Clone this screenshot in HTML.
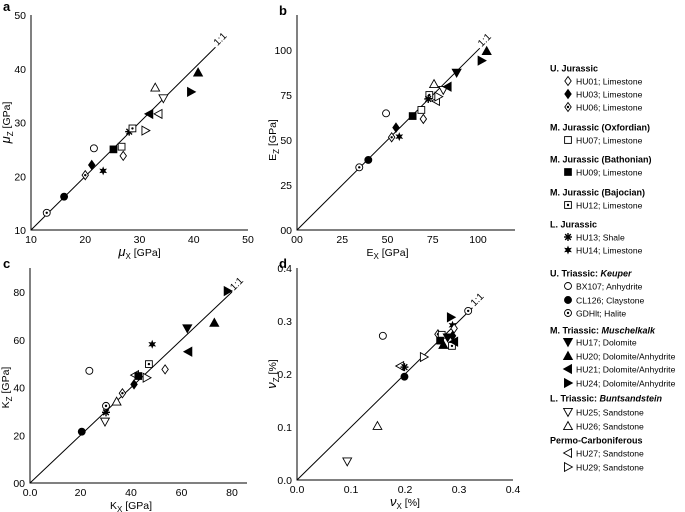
<!DOCTYPE html>
<html><head><meta charset="utf-8"><style>
html,body{margin:0;padding:0;background:#fff;}
svg{display:block;font-family:"Liberation Sans",sans-serif;}
</style></head><body>
<svg id="s" width="685" height="512" viewBox="0 0 685 512" xmlns="http://www.w3.org/2000/svg"></svg>
<script>
const NS="http://www.w3.org/2000/svg";
const svg=document.getElementById('s');
const samples=['HU01','HU03','HU06','HU07','HU09','HU12','HU13','HU14','BX107','CL126','GDHlt','HU17','HU20','HU21','HU24','HU25','HU26','HU27','HU29'];
const markers=['diamond-open','diamond-fill','diamond-dot','square-open','square-fill','square-dot','asterisk','star','circle-open','circle-fill','circle-dot','tri-down-fill','tri-up-fill','tri-left-fill','tri-right-fill','tri-down-open','tri-up-open','tri-left-open','tri-right-open'];
const aSamples=['GDHlt','CL126','HU06','HU03','BX107','HU14','HU09','HU07','HU01','HU13','HU12','HU29','HU21','HU27','HU26','HU25','HU24','HU20'];
const aX=[12.9,16.1,20.0,21.2,21.6,23.3,25.2,26.7,27.0,28.1,28.7,31.1,31.8,33.5,32.9,34.4,39.5,40.8];
const aY=[13.2,16.2,20.2,22.1,25.2,21.0,25.0,25.5,23.8,28.3,28.9,28.5,31.6,31.6,36.5,34.5,35.7,39.3];
const bSamples=['GDHlt','CL126','HU06','HU14','HU03','BX107','HU09','HU07','HU01','HU12','HU13','HU26','HU27','HU29','HU25','HU21','HU17','HU20','HU24'];
const bX=[34.4,39.4,52.3,56.5,54.7,49.2,63.9,68.7,69.8,73.1,72.5,75.7,76.8,78.1,80.8,83.2,88.2,104.8,102.0];
const bY=[34.8,38.9,51.5,51.9,56.9,64.8,63.3,66.7,61.7,75.0,72.8,81.1,71.7,74.1,77.8,79.6,87.4,99.4,94.1];
const cSamples=['CL126','HU13','HU25','GDHlt','HU26','HU06','HU03','BX107','HU27','HU09','HU29','HU12','HU01','HU14','HU21','HU17','HU20','HU24'];
const cX=[20.5,30.1,29.7,30.1,34.3,36.6,41.2,23.5,41.6,42.9,46.2,47.1,53.5,48.4,62.7,62.3,73.0,78.3];
const cY=[21.5,29.6,25.7,32.3,34.1,37.6,41.3,47.0,45.2,44.8,44.1,49.8,47.6,58.1,55.0,64.8,67.1,80.4];
const dSamples=['HU25','HU26','BX107','CL126','HU27','HU13','HU29','HU06','HU07','HU09','HU20','HU03','HU12','HU21','HU17','HU24','HU14','HU01','GDHlt'];
const dX=[0.093,0.149,0.159,0.199,0.191,0.199,0.235,0.261,0.268,0.265,0.271,0.288,0.287,0.291,0.279,0.285,0.288,0.291,0.317];
const dY=[0.035,0.102,0.272,0.195,0.215,0.213,0.232,0.275,0.274,0.263,0.255,0.272,0.253,0.261,0.269,0.307,0.292,0.286,0.319];

const aTicks=['10','20','30','40','50'];
const bTicks=['00','25','50','75','100'];
const cXTicks=['0.0','20','40','60','80'];
const cYTicks=['00','20','40','60','80'];
const dTicks=['0.0','0.1','0.2','0.3','0.4'];

function el(tag,attrs,parent){const e=document.createElementNS(NS,tag);for(const k in attrs)e.setAttribute(k,attrs[k]);(parent||svg).appendChild(e);return e;}

function marker(g,type,x,y){
  const r=3.5;let e;const fill=type.includes('fill')||type==='star'?'#000':'#fff';
  const sw=0.9;
  if(type.startsWith('circle')){e=el('circle',{cx:x,cy:y,r:r,fill:fill,stroke:'#000','stroke-width':sw},g);}
  else if(type.startsWith('square')){e=el('rect',{x:x-3.4,y:y-3.4,width:6.8,height:6.8,fill:fill,stroke:'#000','stroke-width':sw},g);}
  else if(type.startsWith('diamond')){e=el('polygon',{points:`${x},${y-4.5} ${x+3.2},${y} ${x},${y+4.5} ${x-3.2},${y}`,fill:fill,stroke:'#000','stroke-width':sw},g);}
  else if(type.startsWith('tri')){
    const s=4.4;let p;
    if(type.includes('up'))p=`${x},${y-s} ${x+s},${y+s*0.8} ${x-s},${y+s*0.8}`;
    else if(type.includes('down'))p=`${x},${y+s} ${x+s},${y-s*0.8} ${x-s},${y-s*0.8}`;
    else if(type.includes('left'))p=`${x-s},${y} ${x+s*0.8},${y-s} ${x+s*0.8},${y+s}`;
    else p=`${x+s},${y} ${x-s*0.8},${y-s} ${x-s*0.8},${y+s}`;
    e=el('polygon',{points:p,fill:fill,stroke:'#000','stroke-width':sw},g);}
  else if(type==='asterisk'){
    e=el('g',{},g);
    for(let i=0;i<4;i++){const a=i*Math.PI/4;el('line',{x1:x-4*Math.cos(a),y1:y-4*Math.sin(a),x2:x+4*Math.cos(a),y2:y+4*Math.sin(a),stroke:'#000','stroke-width':1.4},e);}
  }
  else if(type==='star'){
    let p='';for(let i=0;i<12;i++){const a=i*Math.PI/6-Math.PI/2;const rr=i%2?2.1:4.5;p+=`${x+rr*Math.cos(a)},${y+rr*Math.sin(a)} `;}
    e=el('polygon',{points:p,fill:'#000'},g);}
  if(type.endsWith('dot'))el('circle',{cx:x,cy:y,r:1.2,fill:'#000'},g);
  return e;
}

function panel(cfg){
  const g=el('g',{});
  
  
  const sx=v=>cfg.x0+(v-cfg.xmin)*(cfg.x1-cfg.x0)/(cfg.xmax-cfg.xmin);
  const sy=v=>cfg.y0-(v-cfg.ymin)*(cfg.y0-cfg.y1)/(cfg.ymax-cfg.ymin);
  const ax=el('path',{d:`M${cfg.x0},${cfg.ytop}V${cfg.y0}H${cfg.xright}`,fill:'none',stroke:'#000','stroke-width':1},g);
  
  
  cfg.xt.forEach((t,i)=>{const v=cfg.xmin+i*(cfg.xmax-cfg.xmin)/(cfg.xt.length-1);
    const tx=el('text',{x:sx(v),y:cfg.y0+13,'text-anchor':'middle','font-size':10.5},g);tx.textContent=t;
    
    });
  cfg.yt.forEach((t,i)=>{const v=cfg.ymin+i*(cfg.ymax-cfg.ymin)/(cfg.yt.length-1);
    const tx=el('text',{x:cfg.x0-5,y:sy(v)+4,'text-anchor':'end','font-size':10.5},g);tx.textContent=t;
    
    });
  const ln=el('line',{x1:sx(cfg.lmin),y1:sy(cfg.lmin),x2:sx(cfg.lmax),y2:sy(cfg.lmax),stroke:'#000','stroke-width':1},g);
  
  
  const lx=sx(cfg.lmax)+2,ly=sy(cfg.lmax)-1;
  const lt=el('text',{x:lx,y:ly,'font-size':10,transform:`rotate(-45 ${lx} ${ly})`},g);lt.textContent='1:1';
  
  
  cfg.s.forEach((nm,i)=>{const m=marker(g,markers[samples.indexOf(nm)],sx(cfg.X[i]),sy(cfg.Y[i]));
    
    });
  const pl=el('text',{x:cfg.lx,y:cfg.ly,'font-size':13,'font-weight':'bold'},g);pl.textContent=cfg.letter;
  
  
  const xl=el('text',{x:(cfg.x0+cfg.x1)/2,y:cfg.y0+26,'text-anchor':'middle','font-size':10.5},g);xl.innerHTML=cfg.xlab;
  
  
  const yc=(cfg.y0+cfg.y1)/2,yx=cfg.x0-21;
  const yl=el('text',{x:yx,y:yc,'text-anchor':'middle','font-size':10.5,transform:`rotate(-90 ${yx} ${yc})`},g);yl.innerHTML=cfg.ylab;
  
  
}
const sub=(a,b,it)=>`<tspan ${it?'font-style="italic" font-size="13"':''}>${a}</tspan><tspan font-size="8" dy="3">${b}</tspan><tspan dy="-3"> [${it==='p'?'%':'GPa'}]</tspan>`;

panel({name:'panel-a-shear-modulus',letter:'a',lx:3,ly:11,x0:31,x1:248,y0:230,y1:15,xmin:10,xmax:50,ymin:10,ymax:50,ytop:15,xright:248,xt:aTicks,yt:aTicks,lmin:10,lmax:44,s:aSamples,X:aX,Y:aY,xlab:sub('μ','X',true),ylab:sub('μ','Z',true)});
panel({name:'panel-b-youngs-modulus',letter:'b',lx:279,ly:15,x0:297,x1:478,y0:230,y1:50,xmin:0,xmax:100,ymin:0,ymax:100,ytop:15,xright:515,xt:bTicks,yt:bTicks,lmin:0,lmax:101,s:bSamples,X:bX,Y:bY,xlab:sub('E','X',false),ylab:sub('E','Z',false)});
panel({name:'panel-c-bulk-modulus',letter:'c',lx:3,ly:268,x0:30,x1:232,y0:483,y1:292,xmin:0,xmax:80,ymin:0,ymax:80,ytop:268,xright:247,xt:cXTicks,yt:cYTicks,lmin:0,lmax:80,s:cSamples,X:cX,Y:cY,xlab:sub('K','X',false),ylab:sub('K','Z',false)});
panel({name:'panel-d-poissons-ratio',letter:'d',lx:279,ly:268,x0:297,x1:513,y0:480,y1:268,xmin:0,xmax:0.4,ymin:0,ymax:0.4,ytop:268,xright:513,xt:dTicks,yt:dTicks,lmin:0,lmax:0.325,s:dSamples,X:dX,Y:dY,xlab:sub('ν','X','p'),ylab:sub('ν','Z','p')});

const legend=[['h','U. Jurassic',68],['HU01','HU01; Limestone',81],['HU03','HU03; Limestone',94],['HU06','HU06; Limestone',107],
['h','M. Jurassic (Oxfordian)',127],['HU07','HU07; Limestone',140],
['h','M. Jurassic (Bathonian)',159],['HU09','HU09; Limestone',172],
['h','M. Jurassic (Bajocian)',192],['HU12','HU12; Limestone',205],
['h','L. Jurassic',224],['HU13','HU13; Shale',237],['HU14','HU14; Limestone',250],
['h','U. Triassic: <tspan font-style="italic">Keuper</tspan>',273],['BX107','BX107; Anhydrite',286],['CL126','CL126; Claystone',300],['GDHlt','GDHlt; Halite',313],
['h','M. Triassic: <tspan font-style="italic">Muschelkalk</tspan>',330],['HU17','HU17; Dolomite',342],['HU20','HU20; Dolomite/Anhydrite',356],['HU21','HU21; Dolomite/Anhydrite',369],['HU24','HU24; Dolomite/Anhydrite',383],
['h','L. Triassic: <tspan font-style="italic">Buntsandstein</tspan>',398],['HU25','HU25; Sandstone',412],['HU26','HU26; Sandstone',426],
['h','Permo-Carboniferous',440],['HU27','HU27; Sandstone',453],['HU29','HU29; Sandstone',467]];
const lg=el('g',{});


legend.forEach(([k,t,y])=>{
  if(k==='h'){const tx=el('text',{x:550,y:y+3.5,'font-size':9,'font-weight':'bold'},lg);tx.innerHTML=t;
    
    }
  else{const g=el('g',{},lg);
    
    
    const m=marker(g,markers[samples.indexOf(k)],568,y);
    const tx=el('text',{x:576,y:y+3.5,'font-size':8.6},g);tx.textContent=t;}
});
</script>
</body></html>
